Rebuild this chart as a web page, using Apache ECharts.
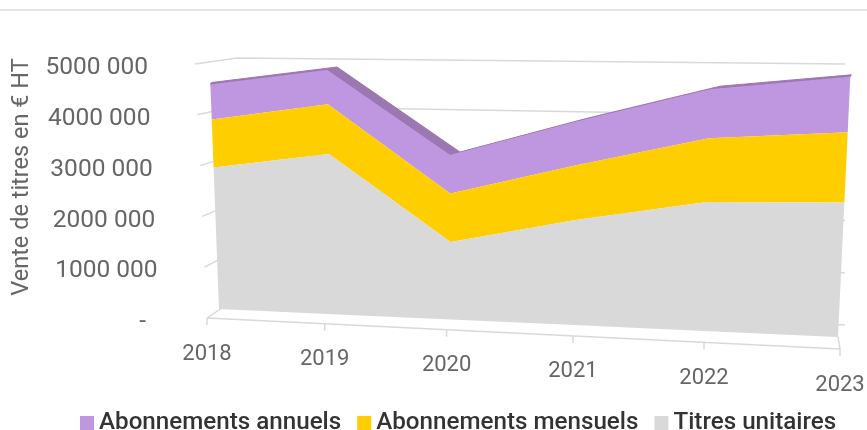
<!DOCTYPE html>
<html>
<head>
<meta charset="utf-8">
<style>
  html, body { margin: 0; padding: 0; background: #fff; }
  #chart { width: 867px; height: 430px; }
</style>
<script src="https://cdn.jsdelivr.net/npm/echarts@6/dist/echarts.min.js"></script>
</head>
<body>
<div id="chart"></div>
<script>
// data
var years = ["2018", "2019", "2020", "2021", "2022", "2023"];
var titresUnitaires = [2900000, 3210000, 1540000, 2040000, 2440000, 2490000];
var aboMensuels = [960000, 970000, 950000, 1040000, 1180000, 1270000];
var aboAnnuels = [690000, 660000, 740000, 820000, 890000, 980000];
var yTicks = [0, 1000000, 2000000, 3000000, 4000000, 5000000];
var yTickLabels = ["-", "1000 000", "2000 000", "3000 000", "4000 000", "5000 000"];
var axisName = "Vente de titres en € HT";

// corners of the tilted planes: [u0v0, u1v0, u0v1, u1v1]
function makeProjection(q) {
  var x0 = q[0][0], y0 = q[0][1], x1 = q[1][0], y1 = q[1][1];
  var x2 = q[3][0], y2 = q[3][1], x3 = q[2][0], y3 = q[2][1];
  var dx1 = x1 - x2, dx2 = x3 - x2, sx = x0 - x1 + x2 - x3;
  var dy1 = y1 - y2, dy2 = y3 - y2, sy = y0 - y1 + y2 - y3;
  var den = dx1 * dy2 - dx2 * dy1;
  var g = (sx * dy2 - dx2 * sy) / den;
  var h = (dx1 * sy - sx * dy1) / den;
  var a = x1 - x0 + g * x1, b = x3 - x0 + h * x3;
  var d = y1 - y0 + g * y1, e = y3 - y0 + h * y3;
  return function (u, v) {
    var w = g * u + h * v + 1;
    return [(a * u + b * v + x0) / w, (d * u + e * v + y0) / w];
  };
}
var areaPlane = makeProjection([[219, 309], [838, 337], [209.5, 61.6], [851, 62]]);
var backWall = makeProjection([[237, 298], [845, 325], [237, 58], [845, 64]]);
var floorEdge = makeProjection([[207, 318], [840, 349], [195, 64], [827, 71]]);
var depth = [10, -3];
var depthEnd = [1, -2];

// axis pixel -> unit square of the grid
function unit(api, params, cat, val) {
  var p = api.coord([cat, val]);
  var c = params.coordSys;
  return [(p[0] - c.x) / c.width, 1 - (p[1] - c.y) / c.height];
}

function renderFrame(params, api) {
  var kids = [];
  var lineStyle = { stroke: "#d9d9d9", lineWidth: 1.5, fill: null };
  yTicks.forEach(function (t, i) {
    var n = unit(api, params, 0, t);
    var f = floorEdge(0, n[1]), b0 = backWall(0, n[1]), b1 = backWall(1, n[1]);
    kids.push({ type: "polyline", shape: { points: [f, b0, b1] }, style: lineStyle });
    kids.push({
      type: "text", x: f[0] - 47 - (i === 0 ? 14 : 0), y: f[1] + 4,
      style: { text: yTickLabels[i], fontFamily: "Roboto", fontSize: 24.5, fontWeight: 400, fill: "#666", align: "right", verticalAlign: "middle" }
    });
  });
  var e0 = floorEdge(0, 0), e1 = floorEdge(1, 0);
  kids.push({ type: "line", shape: { x1: e0[0], y1: e0[1], x2: e1[0], y2: e1[1] }, style: lineStyle });
  var c1 = areaPlane(1, 0);
  kids.push({ type: "line", shape: { x1: e1[0], y1: e1[1], x2: c1[0], y2: c1[1] }, style: lineStyle });
  years.forEach(function (y, i) {
    var n = unit(api, params, i, 0);
    var p = floorEdge(n[0], 0);
    kids.push({ type: "line", shape: { x1: p[0], y1: p[1], x2: p[0], y2: p[1] + 7 }, style: lineStyle });
    kids.push({
      type: "text", x: p[0], y: p[1] + 36,
      style: { text: y, fontFamily: "Roboto", fontSize: 22, fontWeight: 400, fill: "#666", align: "center", verticalAlign: "middle" }
    });
  });
  return { type: "group", children: kids };
}

// stacked layer, whole polygon drawn once; top band for the highest layer only
function renderLayer(lower, upper, color, topColor) {
  return function (params, api) {
    if (params.dataIndex !== 0) return null;
    var top = [], bottom = [];
    years.forEach(function (y, i) {
      var a = unit(api, params, i, upper[i]), b = unit(api, params, i, lower[i]);
      top.push(areaPlane(a[0], a[1]));
      bottom.unshift(areaPlane(b[0], b[1]));
    });
    var kids = [];
    if (topColor) {
      var back = top.map(function (p, i) {
        var off = (i === 0 || i === top.length - 1) ? depthEnd : depth;
        return [p[0] + off[0], p[1] + off[1]];
      }).reverse();
      kids.push({ type: "polygon", shape: { points: top.concat(back) }, style: { fill: topColor, stroke: topColor, lineWidth: 1 } });
    }
    kids.push({ type: "polygon", shape: { points: top.concat(bottom) }, style: { fill: color } });
    return { type: "group", children: kids };
  };
}

function addUp(a, b) {
  return a.map(function (v, i) { return v + b[i]; });
}
var zeros = years.map(function () { return 0; });
var stack1 = titresUnitaires;
var stack2 = addUp(stack1, aboMensuels);
var stack3 = addUp(stack2, aboAnnuels);

function layerSeries(name, values, lower, upper, color, topColor, z) {
  return {
    name: name,
    type: "custom",
    coordinateSystem: "cartesian2d",
    z: z,
    silent: true,
    itemStyle: { color: color },
    renderItem: renderLayer(lower, upper, color, topColor),
    data: values.map(function (v, i) { return [i, v]; })
  };
}

var myEcharts = echarts.init(document.getElementById("chart"));
myEcharts.setOption({
  animation: false,
  backgroundColor: "#fff",
  grid: { left: 200, right: 20, top: 60, bottom: 136 },
  legend: {
    left: 75,
    top: 406,
    icon: "rect",
    itemWidth: 14,
    itemHeight: 14,
    itemGap: 16,
    textStyle: { fontFamily: "Roboto", fontSize: 24.2, fontWeight: 500, color: "#333" },
    data: ["Abonnements annuels", "Abonnements mensuels", "Titres unitaires"]
  },
  graphic: [{
    type: "line",
    shape: { x1: 0, y1: 10, x2: 867, y2: 10 },
    style: { stroke: "#dcdcdc", lineWidth: 1.5 }
  }],
  xAxis: { type: "category", data: years, boundaryGap: false, show: false },
  yAxis: {
    type: "value",
    min: 0,
    max: 5000000,
    interval: 1000000,
    name: axisName,
    nameLocation: "middle",
    nameGap: 166,
    nameRotate: 90,
    nameTextStyle: { fontFamily: "Roboto", fontSize: 23.5, fontWeight: 400, color: "#666" },
    axisLine: { show: false },
    axisTick: { show: false },
    axisLabel: { show: false },
    splitLine: { show: false }
  },
  series: [
    { type: "custom", coordinateSystem: "cartesian2d", z: 1, silent: true, renderItem: renderFrame, data: [[0, 0]] },
    layerSeries("Abonnements annuels", aboAnnuels, stack2, stack3, "#bf96e0", "#9c78b3", 2),
    layerSeries("Abonnements mensuels", aboMensuels, stack1, stack2, "#ffce00", null, 3),
    layerSeries("Titres unitaires", titresUnitaires, zeros, stack1, "#d9d9d9", null, 4)
  ]
});
</script>
</body>
</html>
